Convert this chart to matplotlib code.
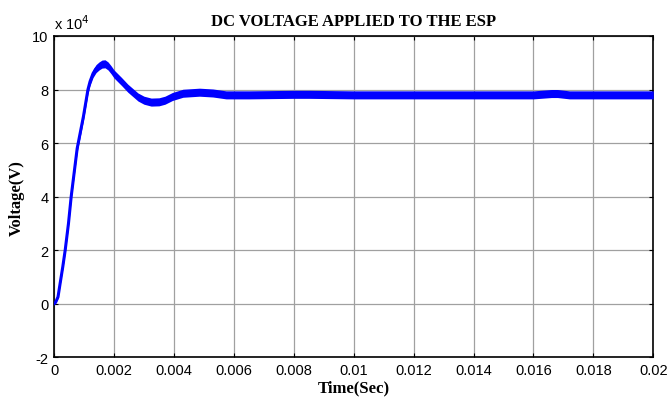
import matplotlib
matplotlib.use("Agg")
import matplotlib.pyplot as plt
import numpy as np

# time (s)
time_s = [0, 0.00005, 0.00013, 0.0002, 0.00029, 0.00037, 0.00048, 0.00057, 0.00067,
          0.00077, 0.00098, 0.00113, 0.0012, 0.0013, 0.0014, 0.0015, 0.0016, 0.0017,
          0.0018, 0.0019, 0.002, 0.00225, 0.00246, 0.0028, 0.003, 0.00324, 0.0035,
          0.0037, 0.00395, 0.0043, 0.00485, 0.0053, 0.00574, 0.0065, 0.008, 0.0085,
          0.01, 0.012, 0.014, 0.016, 0.0166, 0.0168, 0.0172, 0.018, 0.02]
# voltage centre (x 10^4 V)
voltage_e4 = [0, 0.05, 0.25, 0.75, 1.38, 2.0, 3.0, 4.0, 4.9,
              5.8, 7.0, 8.0, 8.3, 8.6, 8.78, 8.88, 8.95, 8.96,
              8.88, 8.74, 8.58, 8.3, 8.05, 7.72, 7.6, 7.53, 7.54,
              7.6, 7.74, 7.86, 7.9, 7.87, 7.8, 7.8, 7.82, 7.82,
              7.8, 7.8, 7.8, 7.8, 7.85, 7.85, 7.8, 7.8, 7.8]
# ripple half-width (x 10^4 V)
ripple_e4 = [0.02, 0.03, 0.05, 0.07, 0.09, 0.1, 0.11, 0.12, 0.13,
             0.14, 0.15, 0.15, 0.15, 0.15, 0.15, 0.15, 0.15, 0.15,
             0.15, 0.15, 0.15, 0.15, 0.15, 0.15, 0.15, 0.15, 0.15,
             0.15, 0.15, 0.15, 0.15, 0.15, 0.15, 0.15, 0.15, 0.15,
             0.15, 0.15, 0.15, 0.15, 0.15, 0.15, 0.15, 0.15, 0.15]

xticks = [0, 0.002, 0.004, 0.006, 0.008, 0.01, 0.012, 0.014, 0.016, 0.018, 0.02]
xticklabels = ["0", "0.002", "0.004", "0.006", "0.008", "0.01", "0.012", "0.014",
               "0.016", "0.018", "0.02"]
yticks = [-2, 0, 2, 4, 6, 8, 10]
yticklabels = ["-2", "0", "2", "4", "6", "8", "10"]

fig = plt.figure(figsize=(6.68, 4.02), dpi=100)
ax = fig.add_axes([0.081, 0.109, 0.897, 0.799])

t = np.array(time_s)
v = np.array(voltage_e4)
r = np.array(ripple_e4)
ax.fill_between(t, v - r, v + r, color="#0000ff", lw=0, zorder=3)
ax.plot(t, v, color="#0000ff", lw=2.2, zorder=3, solid_joinstyle="round")

ax.set_xlim(0, 0.02)
ax.set_ylim(-2, 10)
ax.set_xticks(xticks)
ax.set_xticklabels(xticklabels, fontfamily="Liberation Sans", fontsize=10.5)
ax.set_yticks(yticks)
ax.set_yticklabels(yticklabels, fontfamily="Liberation Sans", fontsize=10.5)
ax.tick_params(direction="in", length=3, width=0.8, top=True, right=True, pad=4)
ax.grid(True, color="#a0a0a0", lw=0.9)
ax.set_axisbelow(True)
for s in ax.spines.values():
    s.set_linewidth(1.2)

ax.set_title("DC VOLTAGE APPLIED TO THE ESP", fontfamily="Liberation Serif",
             fontweight="bold", fontsize=12, pad=8)
ax.set_xlabel("Time(Sec)", fontfamily="Liberation Serif", fontweight="bold",
              fontsize=12, labelpad=2)
ax.set_ylabel("Voltage(V)", fontfamily="Liberation Serif", fontweight="bold",
              fontsize=12, labelpad=5)
ax.text(0.0, 1.012, r"x 10$^{4}$", transform=ax.transAxes, fontfamily="Liberation Sans",
        fontsize=10.5, ha="left", va="bottom")

fig.savefig("out.png", dpi=100, facecolor="white")
